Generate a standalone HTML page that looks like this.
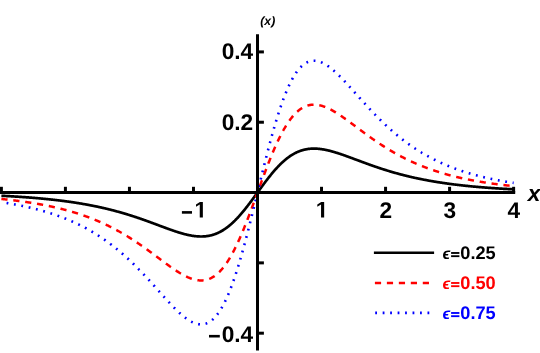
<!DOCTYPE html>
<html><head><meta charset="utf-8"><title>plot</title>
<style>html,body{margin:0;padding:0;background:#fff;overflow:hidden}svg{display:block;will-change:transform}text{font-family:"Liberation Sans",sans-serif;font-weight:bold;text-rendering:geometricPrecision}</style></head><body>
<svg width="540" height="353" viewBox="0 0 540 353">
<rect width="540" height="353" fill="#fff"/>
<g fill="none" stroke-linejoin="round">
<path d="M1.38 195.77 L1.81 195.79 L2.23 195.81 L2.66 195.83 L3.09 195.85 L3.51 195.88 L3.94 195.90 L4.37 195.92 L4.79 195.94 L5.22 195.97 L5.65 195.99 L6.08 196.01 L6.50 196.03 L6.93 196.06 L7.36 196.08 L7.78 196.10 L8.21 196.13 L8.64 196.15 L9.06 196.18 L9.49 196.20 L9.92 196.22 L10.34 196.25 L10.77 196.27 L11.20 196.30 L11.62 196.32 L12.05 196.35 L12.48 196.37 L12.91 196.40 L13.33 196.43 L13.76 196.45 L14.19 196.48 L14.61 196.50 L15.04 196.53 L15.47 196.56 L15.89 196.58 L16.32 196.61 L16.75 196.64 L17.17 196.66 L17.60 196.69 L18.03 196.72 L18.45 196.75 L18.88 196.77 L19.31 196.80 L19.74 196.83 L20.16 196.86 L20.59 196.89 L21.02 196.92 L21.44 196.95 L21.87 196.98 L22.30 197.01 L22.72 197.03 L23.15 197.06 L23.58 197.09 L24.00 197.13 L24.43 197.16 L24.86 197.19 L25.28 197.22 L25.71 197.25 L26.14 197.28 L26.57 197.31 L26.99 197.34 L27.42 197.37 L27.85 197.41 L28.27 197.44 L28.70 197.47 L29.13 197.50 L29.55 197.54 L29.98 197.57 L30.41 197.60 L30.83 197.64 L31.26 197.67 L31.69 197.71 L32.11 197.74 L32.54 197.77 L32.97 197.81 L33.39 197.84 L33.82 197.88 L34.25 197.91 L34.68 197.95 L35.10 197.99 L35.53 198.02 L35.96 198.06 L36.38 198.10 L36.81 198.13 L37.24 198.17 L37.66 198.21 L38.09 198.24 L38.52 198.28 L38.94 198.32 L39.37 198.36 L39.80 198.40 L40.22 198.44 L40.65 198.48 L41.08 198.51 L41.51 198.55 L41.93 198.59 L42.36 198.63 L42.79 198.67 L43.21 198.72 L43.64 198.76 L44.07 198.80 L44.49 198.84 L44.92 198.88 L45.35 198.92 L45.77 198.97 L46.20 199.01 L46.63 199.05 L47.05 199.09 L47.48 199.14 L47.91 199.18 L48.34 199.22 L48.76 199.27 L49.19 199.31 L49.62 199.36 L50.04 199.40 L50.47 199.45 L50.90 199.49 L51.32 199.54 L51.75 199.59 L52.18 199.63 L52.60 199.68 L53.03 199.73 L53.46 199.78 L53.88 199.82 L54.31 199.87 L54.74 199.92 L55.17 199.97 L55.59 200.02 L56.02 200.07 L56.45 200.12 L56.87 200.17 L57.30 200.22 L57.73 200.27 L58.15 200.32 L58.58 200.37 L59.01 200.42 L59.43 200.47 L59.86 200.53 L60.29 200.58 L60.71 200.63 L61.14 200.68 L61.57 200.74 L62.00 200.79 L62.42 200.85 L62.85 200.90 L63.28 200.96 L63.70 201.01 L64.13 201.07 L64.56 201.12 L64.98 201.18 L65.41 201.24 L65.84 201.29 L66.26 201.35 L66.69 201.41 L67.12 201.47 L67.54 201.53 L67.97 201.59 L68.40 201.65 L68.82 201.71 L69.25 201.77 L69.68 201.83 L70.11 201.89 L70.53 201.95 L70.96 202.01 L71.39 202.07 L71.81 202.14 L72.24 202.20 L72.67 202.26 L73.09 202.33 L73.52 202.39 L73.95 202.45 L74.37 202.52 L74.80 202.58 L75.23 202.65 L75.65 202.72 L76.08 202.78 L76.51 202.85 L76.94 202.92 L77.36 202.99 L77.79 203.05 L78.22 203.12 L78.64 203.19 L79.07 203.26 L79.50 203.33 L79.92 203.40 L80.35 203.47 L80.78 203.54 L81.20 203.62 L81.63 203.69 L82.06 203.76 L82.48 203.83 L82.91 203.91 L83.34 203.98 L83.77 204.06 L84.19 204.13 L84.62 204.21 L85.05 204.28 L85.47 204.36 L85.90 204.43 L86.33 204.51 L86.75 204.59 L87.18 204.67 L87.61 204.75 L88.03 204.83 L88.46 204.91 L88.89 204.99 L89.31 205.07 L89.74 205.15 L90.17 205.23 L90.60 205.31 L91.02 205.39 L91.45 205.48 L91.88 205.56 L92.30 205.64 L92.73 205.73 L93.16 205.81 L93.58 205.90 L94.01 205.98 L94.44 206.07 L94.86 206.16 L95.29 206.25 L95.72 206.33 L96.14 206.42 L96.57 206.51 L97.00 206.60 L97.43 206.69 L97.85 206.78 L98.28 206.87 L98.71 206.97 L99.13 207.06 L99.56 207.15 L99.99 207.24 L100.41 207.34 L100.84 207.43 L101.27 207.53 L101.69 207.62 L102.12 207.72 L102.55 207.82 L102.97 207.91 L103.40 208.01 L103.83 208.11 L104.25 208.21 L104.68 208.31 L105.11 208.41 L105.54 208.51 L105.96 208.61 L106.39 208.71 L106.82 208.81 L107.24 208.92 L107.67 209.02 L108.10 209.12 L108.52 209.23 L108.95 209.33 L109.38 209.44 L109.80 209.55 L110.23 209.65 L110.66 209.76 L111.08 209.87 L111.51 209.98 L111.94 210.09 L112.37 210.20 L112.79 210.31 L113.22 210.42 L113.65 210.53 L114.07 210.64 L114.50 210.75 L114.93 210.87 L115.35 210.98 L115.78 211.10 L116.21 211.21 L116.63 211.33 L117.06 211.44 L117.49 211.56 L117.91 211.68 L118.34 211.79 L118.77 211.91 L119.20 212.03 L119.62 212.15 L120.05 212.27 L120.48 212.39 L120.90 212.52 L121.33 212.64 L121.76 212.76 L122.18 212.88 L122.61 213.01 L123.04 213.13 L123.46 213.26 L123.89 213.38 L124.32 213.51 L124.74 213.64 L125.17 213.77 L125.60 213.89 L126.03 214.02 L126.45 214.15 L126.88 214.28 L127.31 214.41 L127.73 214.54 L128.16 214.67 L128.59 214.81 L129.01 214.94 L129.44 215.07 L129.87 215.21 L130.29 215.34 L130.72 215.48 L131.15 215.61 L131.57 215.75 L132.00 215.89 L132.43 216.02 L132.85 216.16 L133.28 216.30 L133.71 216.44 L134.14 216.58 L134.56 216.72 L134.99 216.86 L135.42 217.00 L135.84 217.14 L136.27 217.29 L136.70 217.43 L137.12 217.57 L137.55 217.72 L137.98 217.86 L138.40 218.01 L138.83 218.15 L139.26 218.30 L139.68 218.44 L140.11 218.59 L140.54 218.74 L140.97 218.89 L141.39 219.03 L141.82 219.18 L142.25 219.33 L142.67 219.48 L143.10 219.63 L143.53 219.78 L143.95 219.93 L144.38 220.09 L144.81 220.24 L145.23 220.39 L145.66 220.54 L146.09 220.70 L146.51 220.85 L146.94 221.00 L147.37 221.16 L147.80 221.31 L148.22 221.47 L148.65 221.62 L149.08 221.78 L149.50 221.93 L149.93 222.09 L150.36 222.25 L150.78 222.40 L151.21 222.56 L151.64 222.72 L152.06 222.87 L152.49 223.03 L152.92 223.19 L153.34 223.35 L153.77 223.51 L154.20 223.66 L154.63 223.82 L155.05 223.98 L155.48 224.14 L155.91 224.30 L156.33 224.46 L156.76 224.62 L157.19 224.78 L157.61 224.94 L158.04 225.10 L158.47 225.26 L158.89 225.42 L159.32 225.58 L159.75 225.73 L160.17 225.89 L160.60 226.05 L161.03 226.21 L161.45 226.37 L161.88 226.53 L162.31 226.69 L162.74 226.85 L163.16 227.01 L163.59 227.17 L164.02 227.32 L164.44 227.48 L164.87 227.64 L165.30 227.80 L165.72 227.95 L166.15 228.11 L166.58 228.27 L167.00 228.42 L167.43 228.58 L167.86 228.73 L168.28 228.89 L168.71 229.04 L169.14 229.19 L169.57 229.35 L169.99 229.50 L170.42 229.65 L170.85 229.80 L171.27 229.95 L171.70 230.10 L172.13 230.25 L172.55 230.40 L172.98 230.54 L173.41 230.69 L173.83 230.84 L174.26 230.98 L174.69 231.13 L175.11 231.27 L175.54 231.41 L175.97 231.55 L176.40 231.69 L176.82 231.83 L177.25 231.97 L177.68 232.10 L178.10 232.24 L178.53 232.37 L178.96 232.50 L179.38 232.64 L179.81 232.77 L180.24 232.89 L180.66 233.02 L181.09 233.15 L181.52 233.27 L181.94 233.39 L182.37 233.51 L182.80 233.63 L183.23 233.75 L183.65 233.87 L184.08 233.98 L184.51 234.09 L184.93 234.20 L185.36 234.31 L185.79 234.42 L186.21 234.52 L186.64 234.62 L187.07 234.72 L187.49 234.82 L187.92 234.91 L188.35 235.01 L188.77 235.10 L189.20 235.19 L189.63 235.27 L190.06 235.36 L190.48 235.44 L190.91 235.52 L191.34 235.59 L191.76 235.67 L192.19 235.74 L192.62 235.81 L193.04 235.87 L193.47 235.93 L193.90 235.99 L194.32 236.05 L194.75 236.10 L195.18 236.15 L195.60 236.20 L196.03 236.24 L196.46 236.28 L196.88 236.32 L197.31 236.36 L197.74 236.39 L198.17 236.41 L198.59 236.44 L199.02 236.46 L199.45 236.47 L199.87 236.48 L200.30 236.49 L200.73 236.50 L201.15 236.50 L201.58 236.50 L202.01 236.49 L202.43 236.48 L202.86 236.46 L203.29 236.45 L203.71 236.42 L204.14 236.40 L204.57 236.36 L205.00 236.33 L205.42 236.29 L205.85 236.24 L206.28 236.19 L206.70 236.14 L207.13 236.08 L207.56 236.02 L207.98 235.95 L208.41 235.88 L208.84 235.80 L209.26 235.72 L209.69 235.63 L210.12 235.54 L210.54 235.44 L210.97 235.34 L211.40 235.23 L211.83 235.12 L212.25 235.00 L212.68 234.87 L213.11 234.75 L213.53 234.61 L213.96 234.47 L214.39 234.33 L214.81 234.18 L215.24 234.02 L215.67 233.86 L216.09 233.70 L216.52 233.52 L216.95 233.35 L217.37 233.16 L217.80 232.97 L218.23 232.78 L218.66 232.58 L219.08 232.37 L219.51 232.16 L219.94 231.94 L220.36 231.72 L220.79 231.49 L221.22 231.25 L221.64 231.01 L222.07 230.76 L222.50 230.51 L222.92 230.25 L223.35 229.99 L223.78 229.72 L224.20 229.44 L224.63 229.16 L225.06 228.87 L225.49 228.57 L225.91 228.27 L226.34 227.97 L226.77 227.65 L227.19 227.33 L227.62 227.01 L228.05 226.68 L228.47 226.34 L228.90 226.00 L229.33 225.65 L229.75 225.30 L230.18 224.94 L230.61 224.57 L231.03 224.20 L231.46 223.83 L231.89 223.44 L232.31 223.05 L232.74 222.66 L233.17 222.26 L233.60 221.86 L234.02 221.45 L234.45 221.03 L234.88 220.61 L235.30 220.18 L235.73 219.75 L236.16 219.31 L236.58 218.87 L237.01 218.42 L237.44 217.97 L237.86 217.51 L238.29 217.05 L238.72 216.58 L239.14 216.11 L239.57 215.63 L240.00 215.15 L240.43 214.66 L240.85 214.17 L241.28 213.67 L241.71 213.17 L242.13 212.67 L242.56 212.16 L242.99 211.65 L243.41 211.13 L243.84 210.61 L244.27 210.09 L244.69 209.56 L245.12 209.03 L245.55 208.49 L245.97 207.95 L246.40 207.41 L246.83 206.87 L247.26 206.32 L247.68 205.77 L248.11 205.21 L248.54 204.66 L248.96 204.10 L249.39 203.54 L249.82 202.97 L250.24 202.41 L250.67 201.84 L251.10 201.27 L251.52 200.69 L251.95 200.12 L252.38 199.54 L252.80 198.97 L253.23 198.39 L253.66 197.81 L254.09 197.23 L254.51 196.64 L254.94 196.06 L255.37 195.48 L255.79 194.89 L256.22 194.31 L256.65 193.72 L257.07 193.14 L257.50 192.55 L257.93 191.96 L258.35 191.38 L258.78 190.79 L259.21 190.21 L259.63 189.62 L260.06 189.04 L260.49 188.46 L260.91 187.87 L261.34 187.29 L261.77 186.71 L262.20 186.13 L262.62 185.56 L263.05 184.98 L263.48 184.41 L263.90 183.83 L264.33 183.26 L264.76 182.69 L265.18 182.13 L265.61 181.56 L266.04 181.00 L266.46 180.44 L266.89 179.89 L267.32 179.33 L267.74 178.78 L268.17 178.23 L268.60 177.69 L269.03 177.15 L269.45 176.61 L269.88 176.07 L270.31 175.54 L270.73 175.01 L271.16 174.49 L271.59 173.97 L272.01 173.45 L272.44 172.94 L272.87 172.43 L273.29 171.93 L273.72 171.43 L274.15 170.93 L274.57 170.44 L275.00 169.95 L275.43 169.47 L275.86 168.99 L276.28 168.52 L276.71 168.05 L277.14 167.59 L277.56 167.13 L277.99 166.68 L278.42 166.23 L278.84 165.79 L279.27 165.35 L279.70 164.92 L280.12 164.49 L280.55 164.07 L280.98 163.65 L281.40 163.24 L281.83 162.84 L282.26 162.44 L282.69 162.05 L283.11 161.66 L283.54 161.27 L283.97 160.90 L284.39 160.53 L284.82 160.16 L285.25 159.80 L285.67 159.45 L286.10 159.10 L286.53 158.76 L286.95 158.42 L287.38 158.09 L287.81 157.77 L288.23 157.45 L288.66 157.13 L289.09 156.83 L289.51 156.53 L289.94 156.23 L290.37 155.94 L290.80 155.66 L291.22 155.38 L291.65 155.11 L292.08 154.85 L292.50 154.59 L292.93 154.34 L293.36 154.09 L293.78 153.85 L294.21 153.61 L294.64 153.38 L295.06 153.16 L295.49 152.94 L295.92 152.73 L296.34 152.52 L296.77 152.32 L297.20 152.13 L297.63 151.94 L298.05 151.75 L298.48 151.58 L298.91 151.40 L299.33 151.24 L299.76 151.08 L300.19 150.92 L300.61 150.77 L301.04 150.63 L301.47 150.49 L301.89 150.35 L302.32 150.23 L302.75 150.10 L303.17 149.98 L303.60 149.87 L304.03 149.76 L304.46 149.66 L304.88 149.56 L305.31 149.47 L305.74 149.38 L306.16 149.30 L306.59 149.22 L307.02 149.15 L307.44 149.08 L307.87 149.02 L308.30 148.96 L308.72 148.91 L309.15 148.86 L309.58 148.81 L310.00 148.77 L310.43 148.74 L310.86 148.70 L311.29 148.68 L311.71 148.65 L312.14 148.64 L312.57 148.62 L312.99 148.61 L313.42 148.60 L313.85 148.60 L314.27 148.60 L314.70 148.61 L315.13 148.62 L315.55 148.63 L315.98 148.64 L316.41 148.66 L316.83 148.69 L317.26 148.71 L317.69 148.74 L318.12 148.78 L318.54 148.82 L318.97 148.86 L319.40 148.90 L319.82 148.95 L320.25 149.00 L320.68 149.05 L321.10 149.11 L321.53 149.17 L321.96 149.23 L322.38 149.29 L322.81 149.36 L323.24 149.43 L323.66 149.51 L324.09 149.58 L324.52 149.66 L324.94 149.74 L325.37 149.83 L325.80 149.91 L326.23 150.00 L326.65 150.09 L327.08 150.19 L327.51 150.28 L327.93 150.38 L328.36 150.48 L328.79 150.58 L329.21 150.68 L329.64 150.79 L330.07 150.90 L330.49 151.01 L330.92 151.12 L331.35 151.23 L331.77 151.35 L332.20 151.47 L332.63 151.59 L333.06 151.71 L333.48 151.83 L333.91 151.95 L334.34 152.08 L334.76 152.21 L335.19 152.33 L335.62 152.46 L336.04 152.60 L336.47 152.73 L336.90 152.86 L337.32 153.00 L337.75 153.13 L338.18 153.27 L338.60 153.41 L339.03 153.55 L339.46 153.69 L339.89 153.83 L340.31 153.97 L340.74 154.12 L341.17 154.26 L341.59 154.41 L342.02 154.56 L342.45 154.70 L342.87 154.85 L343.30 155.00 L343.73 155.15 L344.15 155.30 L344.58 155.45 L345.01 155.60 L345.43 155.75 L345.86 155.91 L346.29 156.06 L346.72 156.21 L347.14 156.37 L347.57 156.52 L348.00 156.68 L348.42 156.83 L348.85 156.99 L349.28 157.15 L349.70 157.30 L350.13 157.46 L350.56 157.62 L350.98 157.78 L351.41 157.93 L351.84 158.09 L352.26 158.25 L352.69 158.41 L353.12 158.57 L353.55 158.73 L353.97 158.89 L354.40 159.05 L354.83 159.21 L355.25 159.37 L355.68 159.52 L356.11 159.68 L356.53 159.84 L356.96 160.00 L357.39 160.16 L357.81 160.32 L358.24 160.48 L358.67 160.64 L359.09 160.80 L359.52 160.96 L359.95 161.12 L360.37 161.28 L360.80 161.44 L361.23 161.59 L361.66 161.75 L362.08 161.91 L362.51 162.07 L362.94 162.23 L363.36 162.38 L363.79 162.54 L364.22 162.70 L364.64 162.85 L365.07 163.01 L365.50 163.17 L365.92 163.32 L366.35 163.48 L366.78 163.63 L367.20 163.79 L367.63 163.94 L368.06 164.10 L368.49 164.25 L368.91 164.40 L369.34 164.56 L369.77 164.71 L370.19 164.86 L370.62 165.01 L371.05 165.17 L371.47 165.32 L371.90 165.47 L372.33 165.62 L372.75 165.77 L373.18 165.92 L373.61 166.07 L374.03 166.21 L374.46 166.36 L374.89 166.51 L375.32 166.66 L375.74 166.80 L376.17 166.95 L376.60 167.09 L377.02 167.24 L377.45 167.38 L377.88 167.53 L378.30 167.67 L378.73 167.81 L379.16 167.96 L379.58 168.10 L380.01 168.24 L380.44 168.38 L380.86 168.52 L381.29 168.66 L381.72 168.80 L382.15 168.94 L382.57 169.08 L383.00 169.21 L383.43 169.35 L383.85 169.49 L384.28 169.62 L384.71 169.76 L385.13 169.89 L385.56 170.03 L385.99 170.16 L386.41 170.29 L386.84 170.43 L387.27 170.56 L387.69 170.69 L388.12 170.82 L388.55 170.95 L388.97 171.08 L389.40 171.21 L389.83 171.33 L390.26 171.46 L390.68 171.59 L391.11 171.72 L391.54 171.84 L391.96 171.97 L392.39 172.09 L392.82 172.22 L393.24 172.34 L393.67 172.46 L394.10 172.58 L394.52 172.71 L394.95 172.83 L395.38 172.95 L395.80 173.07 L396.23 173.19 L396.66 173.31 L397.09 173.42 L397.51 173.54 L397.94 173.66 L398.37 173.77 L398.79 173.89 L399.22 174.00 L399.65 174.12 L400.07 174.23 L400.50 174.35 L400.93 174.46 L401.35 174.57 L401.78 174.68 L402.21 174.79 L402.63 174.90 L403.06 175.01 L403.49 175.12 L403.92 175.23 L404.34 175.34 L404.77 175.45 L405.20 175.55 L405.62 175.66 L406.05 175.77 L406.48 175.87 L406.90 175.98 L407.33 176.08 L407.76 176.18 L408.18 176.29 L408.61 176.39 L409.04 176.49 L409.46 176.59 L409.89 176.69 L410.32 176.79 L410.75 176.89 L411.17 176.99 L411.60 177.09 L412.03 177.19 L412.45 177.28 L412.88 177.38 L413.31 177.48 L413.73 177.57 L414.16 177.67 L414.59 177.76 L415.01 177.86 L415.44 177.95 L415.87 178.04 L416.29 178.13 L416.72 178.23 L417.15 178.32 L417.57 178.41 L418.00 178.50 L418.43 178.59 L418.86 178.68 L419.28 178.77 L419.71 178.85 L420.14 178.94 L420.56 179.03 L420.99 179.12 L421.42 179.20 L421.84 179.29 L422.27 179.37 L422.70 179.46 L423.12 179.54 L423.55 179.62 L423.98 179.71 L424.40 179.79 L424.83 179.87 L425.26 179.95 L425.69 180.03 L426.11 180.11 L426.54 180.19 L426.97 180.27 L427.39 180.35 L427.82 180.43 L428.25 180.51 L428.67 180.59 L429.10 180.67 L429.53 180.74 L429.95 180.82 L430.38 180.89 L430.81 180.97 L431.23 181.04 L431.66 181.12 L432.09 181.19 L432.52 181.27 L432.94 181.34 L433.37 181.41 L433.80 181.48 L434.22 181.56 L434.65 181.63 L435.08 181.70 L435.50 181.77 L435.93 181.84 L436.36 181.91 L436.78 181.98 L437.21 182.05 L437.64 182.11 L438.06 182.18 L438.49 182.25 L438.92 182.32 L439.35 182.38 L439.77 182.45 L440.20 182.52 L440.63 182.58 L441.05 182.65 L441.48 182.71 L441.91 182.77 L442.33 182.84 L442.76 182.90 L443.19 182.96 L443.61 183.03 L444.04 183.09 L444.47 183.15 L444.89 183.21 L445.32 183.27 L445.75 183.33 L446.18 183.39 L446.60 183.45 L447.03 183.51 L447.46 183.57 L447.88 183.63 L448.31 183.69 L448.74 183.75 L449.16 183.81 L449.59 183.86 L450.02 183.92 L450.44 183.98 L450.87 184.03 L451.30 184.09 L451.72 184.14 L452.15 184.20 L452.58 184.25 L453.00 184.31 L453.43 184.36 L453.86 184.42 L454.29 184.47 L454.71 184.52 L455.14 184.57 L455.57 184.63 L455.99 184.68 L456.42 184.73 L456.85 184.78 L457.27 184.83 L457.70 184.88 L458.13 184.93 L458.55 184.98 L458.98 185.03 L459.41 185.08 L459.83 185.13 L460.26 185.18 L460.69 185.23 L461.12 185.28 L461.54 185.32 L461.97 185.37 L462.40 185.42 L462.82 185.47 L463.25 185.51 L463.68 185.56 L464.10 185.61 L464.53 185.65 L464.96 185.70 L465.38 185.74 L465.81 185.79 L466.24 185.83 L466.66 185.88 L467.09 185.92 L467.52 185.96 L467.95 186.01 L468.37 186.05 L468.80 186.09 L469.23 186.13 L469.65 186.18 L470.08 186.22 L470.51 186.26 L470.93 186.30 L471.36 186.34 L471.79 186.38 L472.21 186.43 L472.64 186.47 L473.07 186.51 L473.49 186.55 L473.92 186.59 L474.35 186.62 L474.78 186.66 L475.20 186.70 L475.63 186.74 L476.06 186.78 L476.48 186.82 L476.91 186.86 L477.34 186.89 L477.76 186.93 L478.19 186.97 L478.62 187.00 L479.04 187.04 L479.47 187.08 L479.90 187.11 L480.32 187.15 L480.75 187.19 L481.18 187.22 L481.61 187.26 L482.03 187.29 L482.46 187.33 L482.89 187.36 L483.31 187.39 L483.74 187.43 L484.17 187.46 L484.59 187.50 L485.02 187.53 L485.45 187.56 L485.87 187.60 L486.30 187.63 L486.73 187.66 L487.15 187.69 L487.58 187.73 L488.01 187.76 L488.43 187.79 L488.86 187.82 L489.29 187.85 L489.72 187.88 L490.14 187.91 L490.57 187.94 L491.00 187.97 L491.42 188.01 L491.85 188.04 L492.28 188.07 L492.70 188.09 L493.13 188.12 L493.56 188.15 L493.98 188.18 L494.41 188.21 L494.84 188.24 L495.26 188.27 L495.69 188.30 L496.12 188.33 L496.55 188.35 L496.97 188.38 L497.40 188.41 L497.83 188.44 L498.25 188.46 L498.68 188.49 L499.11 188.52 L499.53 188.54 L499.96 188.57 L500.39 188.60 L500.81 188.62 L501.24 188.65 L501.67 188.67 L502.09 188.70 L502.52 188.73 L502.95 188.75 L503.38 188.78 L503.80 188.80 L504.23 188.83 L504.66 188.85 L505.08 188.88 L505.51 188.90 L505.94 188.92 L506.36 188.95 L506.79 188.97 L507.22 189.00 L507.64 189.02 L508.07 189.04 L508.50 189.07 L508.92 189.09 L509.35 189.11 L509.78 189.13 L510.21 189.16 L510.63 189.18 L511.06 189.20 L511.49 189.22 L511.91 189.25 L512.34 189.27 L512.77 189.29 L513.19 189.31 L513.62 189.33" stroke="#000" stroke-width="2.7"/>
<path d="M1.38 198.98 L1.81 199.03 L2.23 199.07 L2.66 199.11 L3.09 199.16 L3.51 199.20 L3.94 199.25 L4.37 199.29 L4.79 199.33 L5.22 199.38 L5.65 199.43 L6.08 199.47 L6.50 199.52 L6.93 199.56 L7.36 199.61 L7.78 199.66 L8.21 199.71 L8.64 199.75 L9.06 199.80 L9.49 199.85 L9.92 199.90 L10.34 199.95 L10.77 200.00 L11.20 200.05 L11.62 200.10 L12.05 200.15 L12.48 200.20 L12.91 200.25 L13.33 200.30 L13.76 200.35 L14.19 200.40 L14.61 200.46 L15.04 200.51 L15.47 200.56 L15.89 200.62 L16.32 200.67 L16.75 200.72 L17.17 200.78 L17.60 200.83 L18.03 200.89 L18.45 200.94 L18.88 201.00 L19.31 201.06 L19.74 201.11 L20.16 201.17 L20.59 201.23 L21.02 201.28 L21.44 201.34 L21.87 201.40 L22.30 201.46 L22.72 201.52 L23.15 201.58 L23.58 201.64 L24.00 201.70 L24.43 201.76 L24.86 201.82 L25.28 201.88 L25.71 201.95 L26.14 202.01 L26.57 202.07 L26.99 202.14 L27.42 202.20 L27.85 202.26 L28.27 202.33 L28.70 202.39 L29.13 202.46 L29.55 202.52 L29.98 202.59 L30.41 202.66 L30.83 202.73 L31.26 202.79 L31.69 202.86 L32.11 202.93 L32.54 203.00 L32.97 203.07 L33.39 203.14 L33.82 203.21 L34.25 203.28 L34.68 203.35 L35.10 203.42 L35.53 203.50 L35.96 203.57 L36.38 203.64 L36.81 203.72 L37.24 203.79 L37.66 203.86 L38.09 203.94 L38.52 204.01 L38.94 204.09 L39.37 204.17 L39.80 204.24 L40.22 204.32 L40.65 204.40 L41.08 204.48 L41.51 204.56 L41.93 204.64 L42.36 204.72 L42.79 204.80 L43.21 204.88 L43.64 204.96 L44.07 205.05 L44.49 205.13 L44.92 205.21 L45.35 205.30 L45.77 205.38 L46.20 205.47 L46.63 205.55 L47.05 205.64 L47.48 205.72 L47.91 205.81 L48.34 205.90 L48.76 205.99 L49.19 206.08 L49.62 206.17 L50.04 206.26 L50.47 206.35 L50.90 206.44 L51.32 206.53 L51.75 206.62 L52.18 206.72 L52.60 206.81 L53.03 206.91 L53.46 207.00 L53.88 207.10 L54.31 207.19 L54.74 207.29 L55.17 207.39 L55.59 207.48 L56.02 207.58 L56.45 207.68 L56.87 207.78 L57.30 207.88 L57.73 207.99 L58.15 208.09 L58.58 208.19 L59.01 208.29 L59.43 208.40 L59.86 208.50 L60.29 208.61 L60.71 208.71 L61.14 208.82 L61.57 208.93 L62.00 209.04 L62.42 209.14 L62.85 209.25 L63.28 209.36 L63.70 209.47 L64.13 209.59 L64.56 209.70 L64.98 209.81 L65.41 209.93 L65.84 210.04 L66.26 210.16 L66.69 210.27 L67.12 210.39 L67.54 210.51 L67.97 210.62 L68.40 210.74 L68.82 210.86 L69.25 210.98 L69.68 211.10 L70.11 211.23 L70.53 211.35 L70.96 211.47 L71.39 211.60 L71.81 211.72 L72.24 211.85 L72.67 211.97 L73.09 212.10 L73.52 212.23 L73.95 212.36 L74.37 212.49 L74.80 212.62 L75.23 212.75 L75.65 212.88 L76.08 213.02 L76.51 213.15 L76.94 213.29 L77.36 213.42 L77.79 213.56 L78.22 213.70 L78.64 213.83 L79.07 213.97 L79.50 214.11 L79.92 214.25 L80.35 214.40 L80.78 214.54 L81.20 214.68 L81.63 214.83 L82.06 214.97 L82.48 215.12 L82.91 215.26 L83.34 215.41 L83.77 215.56 L84.19 215.71 L84.62 215.86 L85.05 216.01 L85.47 216.17 L85.90 216.32 L86.33 216.47 L86.75 216.63 L87.18 216.79 L87.61 216.94 L88.03 217.10 L88.46 217.26 L88.89 217.42 L89.31 217.58 L89.74 217.74 L90.17 217.91 L90.60 218.07 L91.02 218.24 L91.45 218.40 L91.88 218.57 L92.30 218.74 L92.73 218.91 L93.16 219.08 L93.58 219.25 L94.01 219.42 L94.44 219.59 L94.86 219.77 L95.29 219.94 L95.72 220.12 L96.14 220.30 L96.57 220.47 L97.00 220.65 L97.43 220.83 L97.85 221.02 L98.28 221.20 L98.71 221.38 L99.13 221.57 L99.56 221.75 L99.99 221.94 L100.41 222.13 L100.84 222.32 L101.27 222.51 L101.69 222.70 L102.12 222.89 L102.55 223.08 L102.97 223.28 L103.40 223.47 L103.83 223.67 L104.25 223.87 L104.68 224.07 L105.11 224.27 L105.54 224.47 L105.96 224.67 L106.39 224.87 L106.82 225.08 L107.24 225.28 L107.67 225.49 L108.10 225.70 L108.52 225.91 L108.95 226.12 L109.38 226.33 L109.80 226.54 L110.23 226.76 L110.66 226.97 L111.08 227.19 L111.51 227.40 L111.94 227.62 L112.37 227.84 L112.79 228.06 L113.22 228.28 L113.65 228.51 L114.07 228.73 L114.50 228.96 L114.93 229.18 L115.35 229.41 L115.78 229.64 L116.21 229.87 L116.63 230.10 L117.06 230.33 L117.49 230.57 L117.91 230.80 L118.34 231.04 L118.77 231.28 L119.20 231.52 L119.62 231.76 L120.05 232.00 L120.48 232.24 L120.90 232.48 L121.33 232.73 L121.76 232.97 L122.18 233.22 L122.61 233.47 L123.04 233.72 L123.46 233.97 L123.89 234.22 L124.32 234.47 L124.74 234.73 L125.17 234.98 L125.60 235.24 L126.03 235.49 L126.45 235.75 L126.88 236.01 L127.31 236.27 L127.73 236.54 L128.16 236.80 L128.59 237.06 L129.01 237.33 L129.44 237.60 L129.87 237.87 L130.29 238.13 L130.72 238.40 L131.15 238.68 L131.57 238.95 L132.00 239.22 L132.43 239.50 L132.85 239.77 L133.28 240.05 L133.71 240.33 L134.14 240.61 L134.56 240.89 L134.99 241.17 L135.42 241.45 L135.84 241.74 L136.27 242.02 L136.70 242.31 L137.12 242.59 L137.55 242.88 L137.98 243.17 L138.40 243.46 L138.83 243.75 L139.26 244.04 L139.68 244.34 L140.11 244.63 L140.54 244.93 L140.97 245.22 L141.39 245.52 L141.82 245.82 L142.25 246.11 L142.67 246.41 L143.10 246.71 L143.53 247.02 L143.95 247.32 L144.38 247.62 L144.81 247.92 L145.23 248.23 L145.66 248.53 L146.09 248.84 L146.51 249.15 L146.94 249.45 L147.37 249.76 L147.80 250.07 L148.22 250.38 L148.65 250.69 L149.08 251.00 L149.50 251.32 L149.93 251.63 L150.36 251.94 L150.78 252.25 L151.21 252.57 L151.64 252.88 L152.06 253.20 L152.49 253.51 L152.92 253.83 L153.34 254.15 L153.77 254.46 L154.20 254.78 L154.63 255.10 L155.05 255.41 L155.48 255.73 L155.91 256.05 L156.33 256.37 L156.76 256.69 L157.19 257.01 L157.61 257.32 L158.04 257.64 L158.47 257.96 L158.89 258.28 L159.32 258.60 L159.75 258.92 L160.17 259.24 L160.60 259.56 L161.03 259.88 L161.45 260.19 L161.88 260.51 L162.31 260.83 L162.74 261.15 L163.16 261.46 L163.59 261.78 L164.02 262.10 L164.44 262.41 L164.87 262.73 L165.30 263.04 L165.72 263.36 L166.15 263.67 L166.58 263.98 L167.00 264.29 L167.43 264.60 L167.86 264.91 L168.28 265.22 L168.71 265.53 L169.14 265.84 L169.57 266.14 L169.99 266.45 L170.42 266.75 L170.85 267.05 L171.27 267.35 L171.70 267.65 L172.13 267.95 L172.55 268.25 L172.98 268.54 L173.41 268.83 L173.83 269.12 L174.26 269.41 L174.69 269.70 L175.11 269.99 L175.54 270.27 L175.97 270.55 L176.40 270.83 L176.82 271.11 L177.25 271.38 L177.68 271.66 L178.10 271.93 L178.53 272.19 L178.96 272.46 L179.38 272.72 L179.81 272.98 L180.24 273.24 L180.66 273.49 L181.09 273.74 L181.52 273.99 L181.94 274.23 L182.37 274.48 L182.80 274.71 L183.23 274.95 L183.65 275.18 L184.08 275.41 L184.51 275.63 L184.93 275.85 L185.36 276.07 L185.79 276.28 L186.21 276.49 L186.64 276.69 L187.07 276.89 L187.49 277.09 L187.92 277.28 L188.35 277.47 L188.77 277.65 L189.20 277.83 L189.63 278.00 L190.06 278.17 L190.48 278.33 L190.91 278.49 L191.34 278.64 L191.76 278.78 L192.19 278.93 L192.62 279.06 L193.04 279.19 L193.47 279.32 L193.90 279.44 L194.32 279.55 L194.75 279.65 L195.18 279.76 L195.60 279.85 L196.03 279.94 L196.46 280.02 L196.88 280.09 L197.31 280.16 L197.74 280.22 L198.17 280.28 L198.59 280.32 L199.02 280.36 L199.45 280.39 L199.87 280.42 L200.30 280.44 L200.73 280.45 L201.15 280.45 L201.58 280.44 L202.01 280.43 L202.43 280.41 L202.86 280.38 L203.29 280.34 L203.71 280.30 L204.14 280.24 L204.57 280.18 L205.00 280.10 L205.42 280.02 L205.85 279.93 L206.28 279.83 L206.70 279.73 L207.13 279.61 L207.56 279.48 L207.98 279.35 L208.41 279.20 L208.84 279.05 L209.26 278.88 L209.69 278.71 L210.12 278.52 L210.54 278.33 L210.97 278.12 L211.40 277.91 L211.83 277.68 L212.25 277.44 L212.68 277.20 L213.11 276.94 L213.53 276.67 L213.96 276.40 L214.39 276.11 L214.81 275.81 L215.24 275.50 L215.67 275.17 L216.09 274.84 L216.52 274.50 L216.95 274.14 L217.37 273.77 L217.80 273.40 L218.23 273.01 L218.66 272.60 L219.08 272.19 L219.51 271.77 L219.94 271.33 L220.36 270.89 L220.79 270.43 L221.22 269.96 L221.64 269.47 L222.07 268.98 L222.50 268.47 L222.92 267.95 L223.35 267.42 L223.78 266.88 L224.20 266.33 L224.63 265.76 L225.06 265.18 L225.49 264.60 L225.91 263.99 L226.34 263.38 L226.77 262.76 L227.19 262.12 L227.62 261.47 L228.05 260.81 L228.47 260.14 L228.90 259.45 L229.33 258.76 L229.75 258.05 L230.18 257.33 L230.61 256.60 L231.03 255.86 L231.46 255.10 L231.89 254.34 L232.31 253.56 L232.74 252.77 L233.17 251.97 L233.60 251.16 L234.02 250.34 L234.45 249.51 L234.88 248.66 L235.30 247.81 L235.73 246.95 L236.16 246.07 L236.58 245.19 L237.01 244.29 L237.44 243.38 L237.86 242.47 L238.29 241.54 L238.72 240.61 L239.14 239.66 L239.57 238.71 L240.00 237.74 L240.43 236.77 L240.85 235.79 L241.28 234.79 L241.71 233.79 L242.13 232.79 L242.56 231.77 L242.99 230.74 L243.41 229.71 L243.84 228.67 L244.27 227.62 L244.69 226.57 L245.12 225.50 L245.55 224.43 L245.97 223.36 L246.40 222.27 L246.83 221.18 L247.26 220.09 L247.68 218.99 L248.11 217.88 L248.54 216.76 L248.96 215.65 L249.39 214.52 L249.82 213.40 L250.24 212.26 L250.67 211.13 L251.10 209.98 L251.52 208.84 L251.95 207.69 L252.38 206.54 L252.80 205.38 L253.23 204.23 L253.66 203.07 L254.09 201.90 L254.51 200.74 L254.94 199.57 L255.37 198.40 L255.79 197.24 L256.22 196.06 L256.65 194.89 L257.07 193.72 L257.50 192.55 L257.93 191.38 L258.35 190.21 L258.78 189.04 L259.21 187.86 L259.63 186.70 L260.06 185.53 L260.49 184.36 L260.91 183.20 L261.34 182.03 L261.77 180.87 L262.20 179.72 L262.62 178.56 L263.05 177.41 L263.48 176.26 L263.90 175.12 L264.33 173.97 L264.76 172.84 L265.18 171.70 L265.61 170.58 L266.04 169.45 L266.46 168.34 L266.89 167.22 L267.32 166.11 L267.74 165.01 L268.17 163.92 L268.60 162.83 L269.03 161.74 L269.45 160.67 L269.88 159.60 L270.31 158.53 L270.73 157.48 L271.16 156.43 L271.59 155.39 L272.01 154.36 L272.44 153.33 L272.87 152.31 L273.29 151.31 L273.72 150.31 L274.15 149.31 L274.57 148.33 L275.00 147.36 L275.43 146.39 L275.86 145.44 L276.28 144.49 L276.71 143.56 L277.14 142.63 L277.56 141.72 L277.99 140.81 L278.42 139.91 L278.84 139.03 L279.27 138.15 L279.70 137.29 L280.12 136.44 L280.55 135.59 L280.98 134.76 L281.40 133.94 L281.83 133.13 L282.26 132.33 L282.69 131.54 L283.11 130.76 L283.54 130.00 L283.97 129.24 L284.39 128.50 L284.82 127.77 L285.25 127.05 L285.67 126.34 L286.10 125.65 L286.53 124.96 L286.95 124.29 L287.38 123.63 L287.81 122.98 L288.23 122.34 L288.66 121.72 L289.09 121.11 L289.51 120.50 L289.94 119.92 L290.37 119.34 L290.80 118.77 L291.22 118.22 L291.65 117.68 L292.08 117.15 L292.50 116.63 L292.93 116.12 L293.36 115.63 L293.78 115.14 L294.21 114.67 L294.64 114.21 L295.06 113.77 L295.49 113.33 L295.92 112.91 L296.34 112.50 L296.77 112.09 L297.20 111.70 L297.63 111.33 L298.05 110.96 L298.48 110.60 L298.91 110.26 L299.33 109.93 L299.76 109.60 L300.19 109.29 L300.61 108.99 L301.04 108.70 L301.47 108.43 L301.89 108.16 L302.32 107.90 L302.75 107.66 L303.17 107.42 L303.60 107.19 L304.03 106.98 L304.46 106.77 L304.88 106.58 L305.31 106.39 L305.74 106.22 L306.16 106.05 L306.59 105.90 L307.02 105.75 L307.44 105.62 L307.87 105.49 L308.30 105.37 L308.72 105.27 L309.15 105.17 L309.58 105.08 L310.00 105.00 L310.43 104.92 L310.86 104.86 L311.29 104.80 L311.71 104.76 L312.14 104.72 L312.57 104.69 L312.99 104.67 L313.42 104.66 L313.85 104.65 L314.27 104.65 L314.70 104.66 L315.13 104.68 L315.55 104.71 L315.98 104.74 L316.41 104.78 L316.83 104.82 L317.26 104.88 L317.69 104.94 L318.12 105.01 L318.54 105.08 L318.97 105.16 L319.40 105.25 L319.82 105.34 L320.25 105.45 L320.68 105.55 L321.10 105.66 L321.53 105.78 L321.96 105.91 L322.38 106.04 L322.81 106.17 L323.24 106.32 L323.66 106.46 L324.09 106.61 L324.52 106.77 L324.94 106.93 L325.37 107.10 L325.80 107.27 L326.23 107.45 L326.65 107.63 L327.08 107.82 L327.51 108.01 L327.93 108.21 L328.36 108.41 L328.79 108.61 L329.21 108.82 L329.64 109.03 L330.07 109.25 L330.49 109.47 L330.92 109.69 L331.35 109.92 L331.77 110.15 L332.20 110.39 L332.63 110.62 L333.06 110.87 L333.48 111.11 L333.91 111.36 L334.34 111.61 L334.76 111.86 L335.19 112.12 L335.62 112.38 L336.04 112.64 L336.47 112.91 L336.90 113.17 L337.32 113.44 L337.75 113.72 L338.18 113.99 L338.60 114.27 L339.03 114.55 L339.46 114.83 L339.89 115.11 L340.31 115.40 L340.74 115.69 L341.17 115.98 L341.59 116.27 L342.02 116.56 L342.45 116.85 L342.87 117.15 L343.30 117.45 L343.73 117.75 L344.15 118.05 L344.58 118.35 L345.01 118.65 L345.43 118.96 L345.86 119.26 L346.29 119.57 L346.72 119.88 L347.14 120.19 L347.57 120.50 L348.00 120.81 L348.42 121.12 L348.85 121.43 L349.28 121.74 L349.70 122.06 L350.13 122.37 L350.56 122.69 L350.98 123.00 L351.41 123.32 L351.84 123.64 L352.26 123.95 L352.69 124.27 L353.12 124.59 L353.55 124.91 L353.97 125.22 L354.40 125.54 L354.83 125.86 L355.25 126.18 L355.68 126.50 L356.11 126.82 L356.53 127.14 L356.96 127.46 L357.39 127.78 L357.81 128.09 L358.24 128.41 L358.67 128.73 L359.09 129.05 L359.52 129.37 L359.95 129.69 L360.37 130.00 L360.80 130.32 L361.23 130.64 L361.66 130.95 L362.08 131.27 L362.51 131.59 L362.94 131.90 L363.36 132.22 L363.79 132.53 L364.22 132.85 L364.64 133.16 L365.07 133.47 L365.50 133.78 L365.92 134.10 L366.35 134.41 L366.78 134.72 L367.20 135.03 L367.63 135.34 L368.06 135.65 L368.49 135.95 L368.91 136.26 L369.34 136.57 L369.77 136.87 L370.19 137.18 L370.62 137.48 L371.05 137.78 L371.47 138.08 L371.90 138.39 L372.33 138.69 L372.75 138.99 L373.18 139.28 L373.61 139.58 L374.03 139.88 L374.46 140.17 L374.89 140.47 L375.32 140.76 L375.74 141.06 L376.17 141.35 L376.60 141.64 L377.02 141.93 L377.45 142.22 L377.88 142.51 L378.30 142.79 L378.73 143.08 L379.16 143.36 L379.58 143.65 L380.01 143.93 L380.44 144.21 L380.86 144.49 L381.29 144.77 L381.72 145.05 L382.15 145.33 L382.57 145.60 L383.00 145.88 L383.43 146.15 L383.85 146.42 L384.28 146.70 L384.71 146.97 L385.13 147.23 L385.56 147.50 L385.99 147.77 L386.41 148.04 L386.84 148.30 L387.27 148.56 L387.69 148.83 L388.12 149.09 L388.55 149.35 L388.97 149.61 L389.40 149.86 L389.83 150.12 L390.26 150.37 L390.68 150.63 L391.11 150.88 L391.54 151.13 L391.96 151.38 L392.39 151.63 L392.82 151.88 L393.24 152.13 L393.67 152.37 L394.10 152.62 L394.52 152.86 L394.95 153.10 L395.38 153.34 L395.80 153.58 L396.23 153.82 L396.66 154.06 L397.09 154.30 L397.51 154.53 L397.94 154.77 L398.37 155.00 L398.79 155.23 L399.22 155.46 L399.65 155.69 L400.07 155.92 L400.50 156.14 L400.93 156.37 L401.35 156.59 L401.78 156.82 L402.21 157.04 L402.63 157.26 L403.06 157.48 L403.49 157.70 L403.92 157.91 L404.34 158.13 L404.77 158.34 L405.20 158.56 L405.62 158.77 L406.05 158.98 L406.48 159.19 L406.90 159.40 L407.33 159.61 L407.76 159.82 L408.18 160.02 L408.61 160.23 L409.04 160.43 L409.46 160.63 L409.89 160.83 L410.32 161.03 L410.75 161.23 L411.17 161.43 L411.60 161.63 L412.03 161.82 L412.45 162.02 L412.88 162.21 L413.31 162.40 L413.73 162.59 L414.16 162.78 L414.59 162.97 L415.01 163.16 L415.44 163.35 L415.87 163.53 L416.29 163.72 L416.72 163.90 L417.15 164.08 L417.57 164.27 L418.00 164.45 L418.43 164.63 L418.86 164.80 L419.28 164.98 L419.71 165.16 L420.14 165.33 L420.56 165.51 L420.99 165.68 L421.42 165.85 L421.84 166.02 L422.27 166.19 L422.70 166.36 L423.12 166.53 L423.55 166.70 L423.98 166.86 L424.40 167.03 L424.83 167.19 L425.26 167.36 L425.69 167.52 L426.11 167.68 L426.54 167.84 L426.97 168.00 L427.39 168.16 L427.82 168.31 L428.25 168.47 L428.67 168.63 L429.10 168.78 L429.53 168.93 L429.95 169.09 L430.38 169.24 L430.81 169.39 L431.23 169.54 L431.66 169.69 L432.09 169.84 L432.52 169.98 L432.94 170.13 L433.37 170.27 L433.80 170.42 L434.22 170.56 L434.65 170.70 L435.08 170.85 L435.50 170.99 L435.93 171.13 L436.36 171.27 L436.78 171.40 L437.21 171.54 L437.64 171.68 L438.06 171.81 L438.49 171.95 L438.92 172.08 L439.35 172.22 L439.77 172.35 L440.20 172.48 L440.63 172.61 L441.05 172.74 L441.48 172.87 L441.91 173.00 L442.33 173.13 L442.76 173.25 L443.19 173.38 L443.61 173.50 L444.04 173.63 L444.47 173.75 L444.89 173.87 L445.32 174.00 L445.75 174.12 L446.18 174.24 L446.60 174.36 L447.03 174.48 L447.46 174.59 L447.88 174.71 L448.31 174.83 L448.74 174.94 L449.16 175.06 L449.59 175.17 L450.02 175.29 L450.44 175.40 L450.87 175.51 L451.30 175.63 L451.72 175.74 L452.15 175.85 L452.58 175.96 L453.00 176.06 L453.43 176.17 L453.86 176.28 L454.29 176.39 L454.71 176.49 L455.14 176.60 L455.57 176.70 L455.99 176.81 L456.42 176.91 L456.85 177.01 L457.27 177.11 L457.70 177.22 L458.13 177.32 L458.55 177.42 L458.98 177.52 L459.41 177.62 L459.83 177.71 L460.26 177.81 L460.69 177.91 L461.12 178.00 L461.54 178.10 L461.97 178.19 L462.40 178.29 L462.82 178.38 L463.25 178.48 L463.68 178.57 L464.10 178.66 L464.53 178.75 L464.96 178.84 L465.38 178.93 L465.81 179.02 L466.24 179.11 L466.66 179.20 L467.09 179.29 L467.52 179.38 L467.95 179.46 L468.37 179.55 L468.80 179.63 L469.23 179.72 L469.65 179.80 L470.08 179.89 L470.51 179.97 L470.93 180.05 L471.36 180.14 L471.79 180.22 L472.21 180.30 L472.64 180.38 L473.07 180.46 L473.49 180.54 L473.92 180.62 L474.35 180.70 L474.78 180.78 L475.20 180.86 L475.63 180.93 L476.06 181.01 L476.48 181.09 L476.91 181.16 L477.34 181.24 L477.76 181.31 L478.19 181.38 L478.62 181.46 L479.04 181.53 L479.47 181.60 L479.90 181.68 L480.32 181.75 L480.75 181.82 L481.18 181.89 L481.61 181.96 L482.03 182.03 L482.46 182.10 L482.89 182.17 L483.31 182.24 L483.74 182.31 L484.17 182.37 L484.59 182.44 L485.02 182.51 L485.45 182.58 L485.87 182.64 L486.30 182.71 L486.73 182.77 L487.15 182.84 L487.58 182.90 L488.01 182.96 L488.43 183.03 L488.86 183.09 L489.29 183.15 L489.72 183.22 L490.14 183.28 L490.57 183.34 L491.00 183.40 L491.42 183.46 L491.85 183.52 L492.28 183.58 L492.70 183.64 L493.13 183.70 L493.56 183.76 L493.98 183.82 L494.41 183.87 L494.84 183.93 L495.26 183.99 L495.69 184.04 L496.12 184.10 L496.55 184.16 L496.97 184.21 L497.40 184.27 L497.83 184.32 L498.25 184.38 L498.68 184.43 L499.11 184.48 L499.53 184.54 L499.96 184.59 L500.39 184.64 L500.81 184.70 L501.24 184.75 L501.67 184.80 L502.09 184.85 L502.52 184.90 L502.95 184.95 L503.38 185.00 L503.80 185.05 L504.23 185.10 L504.66 185.15 L505.08 185.20 L505.51 185.25 L505.94 185.30 L506.36 185.35 L506.79 185.39 L507.22 185.44 L507.64 185.49 L508.07 185.54 L508.50 185.58 L508.92 185.63 L509.35 185.67 L509.78 185.72 L510.21 185.77 L510.63 185.81 L511.06 185.85 L511.49 185.90 L511.91 185.94 L512.34 185.99 L512.77 186.03 L513.19 186.07 L513.62 186.12" stroke="#f00" stroke-width="2.5" stroke-dasharray="6.2 5.788" stroke-dashoffset="0"/>
<path d="M1.38 202.20 L1.81 202.26 L2.23 202.33 L2.66 202.39 L3.09 202.46 L3.51 202.53 L3.94 202.59 L4.37 202.66 L4.79 202.73 L5.22 202.80 L5.65 202.86 L6.08 202.93 L6.50 203.00 L6.93 203.07 L7.36 203.14 L7.78 203.21 L8.21 203.28 L8.64 203.36 L9.06 203.43 L9.49 203.50 L9.92 203.57 L10.34 203.65 L10.77 203.72 L11.20 203.80 L11.62 203.87 L12.05 203.95 L12.48 204.02 L12.91 204.10 L13.33 204.18 L13.76 204.25 L14.19 204.33 L14.61 204.41 L15.04 204.49 L15.47 204.57 L15.89 204.65 L16.32 204.73 L16.75 204.81 L17.17 204.89 L17.60 204.97 L18.03 205.06 L18.45 205.14 L18.88 205.22 L19.31 205.31 L19.74 205.39 L20.16 205.48 L20.59 205.57 L21.02 205.65 L21.44 205.74 L21.87 205.83 L22.30 205.92 L22.72 206.00 L23.15 206.09 L23.58 206.18 L24.00 206.28 L24.43 206.37 L24.86 206.46 L25.28 206.55 L25.71 206.64 L26.14 206.74 L26.57 206.83 L26.99 206.93 L27.42 207.02 L27.85 207.12 L28.27 207.22 L28.70 207.32 L29.13 207.41 L29.55 207.51 L29.98 207.61 L30.41 207.71 L30.83 207.81 L31.26 207.91 L31.69 208.02 L32.11 208.12 L32.54 208.22 L32.97 208.33 L33.39 208.43 L33.82 208.54 L34.25 208.64 L34.68 208.75 L35.10 208.86 L35.53 208.97 L35.96 209.08 L36.38 209.19 L36.81 209.30 L37.24 209.41 L37.66 209.52 L38.09 209.63 L38.52 209.75 L38.94 209.86 L39.37 209.98 L39.80 210.09 L40.22 210.21 L40.65 210.33 L41.08 210.44 L41.51 210.56 L41.93 210.68 L42.36 210.80 L42.79 210.92 L43.21 211.05 L43.64 211.17 L44.07 211.29 L44.49 211.42 L44.92 211.54 L45.35 211.67 L45.77 211.80 L46.20 211.92 L46.63 212.05 L47.05 212.18 L47.48 212.31 L47.91 212.44 L48.34 212.57 L48.76 212.71 L49.19 212.84 L49.62 212.97 L50.04 213.11 L50.47 213.25 L50.90 213.38 L51.32 213.52 L51.75 213.66 L52.18 213.80 L52.60 213.94 L53.03 214.08 L53.46 214.23 L53.88 214.37 L54.31 214.51 L54.74 214.66 L55.17 214.80 L55.59 214.95 L56.02 215.10 L56.45 215.25 L56.87 215.40 L57.30 215.55 L57.73 215.70 L58.15 215.86 L58.58 216.01 L59.01 216.16 L59.43 216.32 L59.86 216.48 L60.29 216.64 L60.71 216.79 L61.14 216.95 L61.57 217.12 L62.00 217.28 L62.42 217.44 L62.85 217.61 L63.28 217.77 L63.70 217.94 L64.13 218.10 L64.56 218.27 L64.98 218.44 L65.41 218.61 L65.84 218.78 L66.26 218.96 L66.69 219.13 L67.12 219.31 L67.54 219.48 L67.97 219.66 L68.40 219.84 L68.82 220.02 L69.25 220.20 L69.68 220.38 L70.11 220.56 L70.53 220.75 L70.96 220.93 L71.39 221.12 L71.81 221.31 L72.24 221.50 L72.67 221.69 L73.09 221.88 L73.52 222.07 L73.95 222.26 L74.37 222.46 L74.80 222.65 L75.23 222.85 L75.65 223.05 L76.08 223.25 L76.51 223.45 L76.94 223.65 L77.36 223.86 L77.79 224.06 L78.22 224.27 L78.64 224.48 L79.07 224.68 L79.50 224.89 L79.92 225.11 L80.35 225.32 L80.78 225.53 L81.20 225.75 L81.63 225.96 L82.06 226.18 L82.48 226.40 L82.91 226.62 L83.34 226.84 L83.77 227.07 L84.19 227.29 L84.62 227.52 L85.05 227.75 L85.47 227.97 L85.90 228.20 L86.33 228.44 L86.75 228.67 L87.18 228.90 L87.61 229.14 L88.03 229.38 L88.46 229.62 L88.89 229.86 L89.31 230.10 L89.74 230.34 L90.17 230.59 L90.60 230.83 L91.02 231.08 L91.45 231.33 L91.88 231.58 L92.30 231.83 L92.73 232.09 L93.16 232.34 L93.58 232.60 L94.01 232.85 L94.44 233.11 L94.86 233.38 L95.29 233.64 L95.72 233.90 L96.14 234.17 L96.57 234.44 L97.00 234.71 L97.43 234.98 L97.85 235.25 L98.28 235.52 L98.71 235.80 L99.13 236.07 L99.56 236.35 L99.99 236.63 L100.41 236.92 L100.84 237.20 L101.27 237.48 L101.69 237.77 L102.12 238.06 L102.55 238.35 L102.97 238.64 L103.40 238.93 L103.83 239.23 L104.25 239.53 L104.68 239.82 L105.11 240.12 L105.54 240.43 L105.96 240.73 L106.39 241.03 L106.82 241.34 L107.24 241.65 L107.67 241.96 L108.10 242.27 L108.52 242.59 L108.95 242.90 L109.38 243.22 L109.80 243.54 L110.23 243.86 L110.66 244.18 L111.08 244.50 L111.51 244.83 L111.94 245.16 L112.37 245.49 L112.79 245.82 L113.22 246.15 L113.65 246.49 L114.07 246.82 L114.50 247.16 L114.93 247.50 L115.35 247.84 L115.78 248.19 L116.21 248.53 L116.63 248.88 L117.06 249.23 L117.49 249.58 L117.91 249.93 L118.34 250.28 L118.77 250.64 L119.20 251.00 L119.62 251.36 L120.05 251.72 L120.48 252.08 L120.90 252.45 L121.33 252.81 L121.76 253.18 L122.18 253.55 L122.61 253.93 L123.04 254.30 L123.46 254.67 L123.89 255.05 L124.32 255.43 L124.74 255.81 L125.17 256.20 L125.60 256.58 L126.03 256.97 L126.45 257.35 L126.88 257.74 L127.31 258.14 L127.73 258.53 L128.16 258.92 L128.59 259.32 L129.01 259.72 L129.44 260.12 L129.87 260.52 L130.29 260.93 L130.72 261.33 L131.15 261.74 L131.57 262.15 L132.00 262.56 L132.43 262.97 L132.85 263.39 L133.28 263.80 L133.71 264.22 L134.14 264.64 L134.56 265.06 L134.99 265.48 L135.42 265.90 L135.84 266.33 L136.27 266.76 L136.70 267.19 L137.12 267.62 L137.55 268.05 L137.98 268.48 L138.40 268.92 L138.83 269.35 L139.26 269.79 L139.68 270.23 L140.11 270.67 L140.54 271.11 L140.97 271.56 L141.39 272.00 L141.82 272.45 L142.25 272.90 L142.67 273.35 L143.10 273.80 L143.53 274.25 L143.95 274.70 L144.38 275.16 L144.81 275.61 L145.23 276.07 L145.66 276.53 L146.09 276.99 L146.51 277.45 L146.94 277.91 L147.37 278.37 L147.80 278.83 L148.22 279.30 L148.65 279.76 L149.08 280.23 L149.50 280.70 L149.93 281.17 L150.36 281.64 L150.78 282.11 L151.21 282.58 L151.64 283.05 L152.06 283.52 L152.49 283.99 L152.92 284.47 L153.34 284.94 L153.77 285.42 L154.20 285.89 L154.63 286.37 L155.05 286.85 L155.48 287.32 L155.91 287.80 L156.33 288.28 L156.76 288.76 L157.19 289.23 L157.61 289.71 L158.04 290.19 L158.47 290.67 L158.89 291.15 L159.32 291.63 L159.75 292.10 L160.17 292.58 L160.60 293.06 L161.03 293.54 L161.45 294.02 L161.88 294.49 L162.31 294.97 L162.74 295.44 L163.16 295.92 L163.59 296.40 L164.02 296.87 L164.44 297.34 L164.87 297.82 L165.30 298.29 L165.72 298.76 L166.15 299.23 L166.58 299.70 L167.00 300.16 L167.43 300.63 L167.86 301.09 L168.28 301.56 L168.71 302.02 L169.14 302.48 L169.57 302.94 L169.99 303.39 L170.42 303.85 L170.85 304.30 L171.27 304.75 L171.70 305.20 L172.13 305.65 L172.55 306.09 L172.98 306.53 L173.41 306.97 L173.83 307.41 L174.26 307.84 L174.69 308.28 L175.11 308.70 L175.54 309.13 L175.97 309.55 L176.40 309.97 L176.82 310.39 L177.25 310.80 L177.68 311.21 L178.10 311.61 L178.53 312.02 L178.96 312.41 L179.38 312.81 L179.81 313.20 L180.24 313.58 L180.66 313.96 L181.09 314.34 L181.52 314.71 L181.94 315.08 L182.37 315.44 L182.80 315.80 L183.23 316.15 L183.65 316.50 L184.08 316.84 L184.51 317.17 L184.93 317.50 L185.36 317.83 L185.79 318.15 L186.21 318.46 L186.64 318.76 L187.07 319.06 L187.49 319.36 L187.92 319.64 L188.35 319.92 L188.77 320.20 L189.20 320.46 L189.63 320.72 L190.06 320.97 L190.48 321.22 L190.91 321.45 L191.34 321.68 L191.76 321.90 L192.19 322.11 L192.62 322.32 L193.04 322.51 L193.47 322.70 L193.90 322.88 L194.32 323.05 L194.75 323.21 L195.18 323.36 L195.60 323.50 L196.03 323.63 L196.46 323.75 L196.88 323.86 L197.31 323.97 L197.74 324.06 L198.17 324.14 L198.59 324.21 L199.02 324.27 L199.45 324.32 L199.87 324.35 L200.30 324.38 L200.73 324.40 L201.15 324.40 L201.58 324.39 L202.01 324.37 L202.43 324.34 L202.86 324.29 L203.29 324.24 L203.71 324.17 L204.14 324.09 L204.57 323.99 L205.00 323.88 L205.42 323.76 L205.85 323.63 L206.28 323.48 L206.70 323.31 L207.13 323.14 L207.56 322.95 L207.98 322.74 L208.41 322.53 L208.84 322.29 L209.26 322.05 L209.69 321.78 L210.12 321.51 L210.54 321.21 L210.97 320.91 L211.40 320.58 L211.83 320.25 L212.25 319.89 L212.68 319.52 L213.11 319.14 L213.53 318.74 L213.96 318.32 L214.39 317.88 L214.81 317.43 L215.24 316.97 L215.67 316.49 L216.09 315.99 L216.52 315.47 L216.95 314.94 L217.37 314.39 L217.80 313.82 L218.23 313.23 L218.66 312.63 L219.08 312.01 L219.51 311.38 L219.94 310.72 L220.36 310.05 L220.79 309.36 L221.22 308.66 L221.64 307.93 L222.07 307.19 L222.50 306.43 L222.92 305.66 L223.35 304.86 L223.78 304.05 L224.20 303.22 L224.63 302.37 L225.06 301.50 L225.49 300.62 L225.91 299.72 L226.34 298.80 L226.77 297.86 L227.19 296.90 L227.62 295.93 L228.05 294.94 L228.47 293.93 L228.90 292.90 L229.33 291.86 L229.75 290.80 L230.18 289.72 L230.61 288.62 L231.03 287.51 L231.46 286.38 L231.89 285.23 L232.31 284.06 L232.74 282.88 L233.17 281.68 L233.60 280.47 L234.02 279.24 L234.45 277.99 L234.88 276.72 L235.30 275.44 L235.73 274.14 L236.16 272.83 L236.58 271.50 L237.01 270.16 L237.44 268.80 L237.86 267.43 L238.29 266.04 L238.72 264.63 L239.14 263.22 L239.57 261.78 L240.00 260.34 L240.43 258.88 L240.85 257.40 L241.28 255.92 L241.71 254.42 L242.13 252.90 L242.56 251.38 L242.99 249.84 L243.41 248.29 L243.84 246.73 L244.27 245.16 L244.69 243.57 L245.12 241.98 L245.55 240.37 L245.97 238.76 L246.40 237.13 L246.83 235.50 L247.26 233.86 L247.68 232.20 L248.11 230.54 L248.54 228.87 L248.96 227.19 L249.39 225.51 L249.82 223.82 L250.24 222.12 L250.67 220.41 L251.10 218.70 L251.52 216.98 L251.95 215.26 L252.38 213.53 L252.80 211.80 L253.23 210.07 L253.66 208.32 L254.09 206.58 L254.51 204.83 L254.94 203.08 L255.37 201.33 L255.79 199.58 L256.22 197.82 L256.65 196.07 L257.07 194.31 L257.50 192.55 L257.93 190.79 L258.35 189.03 L258.78 187.28 L259.21 185.52 L259.63 183.77 L260.06 182.02 L260.49 180.27 L260.91 178.52 L261.34 176.78 L261.77 175.03 L262.20 173.30 L262.62 171.57 L263.05 169.84 L263.48 168.12 L263.90 166.40 L264.33 164.69 L264.76 162.98 L265.18 161.28 L265.61 159.59 L266.04 157.91 L266.46 156.23 L266.89 154.56 L267.32 152.90 L267.74 151.24 L268.17 149.60 L268.60 147.97 L269.03 146.34 L269.45 144.73 L269.88 143.12 L270.31 141.53 L270.73 139.94 L271.16 138.37 L271.59 136.81 L272.01 135.26 L272.44 133.72 L272.87 132.20 L273.29 130.68 L273.72 129.18 L274.15 127.70 L274.57 126.22 L275.00 124.76 L275.43 123.32 L275.86 121.88 L276.28 120.47 L276.71 119.06 L277.14 117.67 L277.56 116.30 L277.99 114.94 L278.42 113.60 L278.84 112.27 L279.27 110.96 L279.70 109.66 L280.12 108.38 L280.55 107.11 L280.98 105.86 L281.40 104.63 L281.83 103.42 L282.26 102.22 L282.69 101.04 L283.11 99.87 L283.54 98.72 L283.97 97.59 L284.39 96.48 L284.82 95.38 L285.25 94.30 L285.67 93.24 L286.10 92.20 L286.53 91.17 L286.95 90.16 L287.38 89.17 L287.81 88.20 L288.23 87.24 L288.66 86.30 L289.09 85.38 L289.51 84.48 L289.94 83.60 L290.37 82.73 L290.80 81.88 L291.22 81.05 L291.65 80.24 L292.08 79.44 L292.50 78.67 L292.93 77.91 L293.36 77.17 L293.78 76.44 L294.21 75.74 L294.64 75.05 L295.06 74.38 L295.49 73.72 L295.92 73.09 L296.34 72.47 L296.77 71.87 L297.20 71.28 L297.63 70.71 L298.05 70.16 L298.48 69.63 L298.91 69.11 L299.33 68.61 L299.76 68.13 L300.19 67.67 L300.61 67.22 L301.04 66.78 L301.47 66.36 L301.89 65.96 L302.32 65.58 L302.75 65.21 L303.17 64.85 L303.60 64.52 L304.03 64.19 L304.46 63.89 L304.88 63.59 L305.31 63.32 L305.74 63.05 L306.16 62.81 L306.59 62.57 L307.02 62.36 L307.44 62.15 L307.87 61.96 L308.30 61.79 L308.72 61.62 L309.15 61.47 L309.58 61.34 L310.00 61.22 L310.43 61.11 L310.86 61.01 L311.29 60.93 L311.71 60.86 L312.14 60.81 L312.57 60.76 L312.99 60.73 L313.42 60.71 L313.85 60.70 L314.27 60.70 L314.70 60.72 L315.13 60.75 L315.55 60.78 L315.98 60.83 L316.41 60.89 L316.83 60.96 L317.26 61.04 L317.69 61.13 L318.12 61.24 L318.54 61.35 L318.97 61.47 L319.40 61.60 L319.82 61.74 L320.25 61.89 L320.68 62.05 L321.10 62.22 L321.53 62.40 L321.96 62.59 L322.38 62.78 L322.81 62.99 L323.24 63.20 L323.66 63.42 L324.09 63.65 L324.52 63.88 L324.94 64.13 L325.37 64.38 L325.80 64.64 L326.23 64.90 L326.65 65.18 L327.08 65.46 L327.51 65.74 L327.93 66.04 L328.36 66.34 L328.79 66.64 L329.21 66.95 L329.64 67.27 L330.07 67.60 L330.49 67.93 L330.92 68.26 L331.35 68.60 L331.77 68.95 L332.20 69.30 L332.63 69.66 L333.06 70.02 L333.48 70.39 L333.91 70.76 L334.34 71.14 L334.76 71.52 L335.19 71.90 L335.62 72.29 L336.04 72.69 L336.47 73.08 L336.90 73.49 L337.32 73.89 L337.75 74.30 L338.18 74.71 L338.60 75.13 L339.03 75.55 L339.46 75.97 L339.89 76.40 L340.31 76.82 L340.74 77.26 L341.17 77.69 L341.59 78.13 L342.02 78.57 L342.45 79.01 L342.87 79.45 L343.30 79.90 L343.73 80.35 L344.15 80.80 L344.58 81.25 L345.01 81.71 L345.43 82.16 L345.86 82.62 L346.29 83.08 L346.72 83.54 L347.14 84.01 L347.57 84.47 L348.00 84.94 L348.42 85.40 L348.85 85.87 L349.28 86.34 L349.70 86.81 L350.13 87.28 L350.56 87.76 L350.98 88.23 L351.41 88.70 L351.84 89.18 L352.26 89.66 L352.69 90.13 L353.12 90.61 L353.55 91.08 L353.97 91.56 L354.40 92.04 L354.83 92.52 L355.25 93.00 L355.68 93.47 L356.11 93.95 L356.53 94.43 L356.96 94.91 L357.39 95.39 L357.81 95.87 L358.24 96.34 L358.67 96.82 L359.09 97.30 L359.52 97.78 L359.95 98.25 L360.37 98.73 L360.80 99.21 L361.23 99.68 L361.66 100.16 L362.08 100.63 L362.51 101.11 L362.94 101.58 L363.36 102.05 L363.79 102.52 L364.22 102.99 L364.64 103.46 L365.07 103.93 L365.50 104.40 L365.92 104.87 L366.35 105.34 L366.78 105.80 L367.20 106.27 L367.63 106.73 L368.06 107.19 L368.49 107.65 L368.91 108.11 L369.34 108.57 L369.77 109.03 L370.19 109.49 L370.62 109.94 L371.05 110.40 L371.47 110.85 L371.90 111.30 L372.33 111.75 L372.75 112.20 L373.18 112.65 L373.61 113.10 L374.03 113.54 L374.46 113.99 L374.89 114.43 L375.32 114.87 L375.74 115.31 L376.17 115.75 L376.60 116.18 L377.02 116.62 L377.45 117.05 L377.88 117.48 L378.30 117.91 L378.73 118.34 L379.16 118.77 L379.58 119.20 L380.01 119.62 L380.44 120.04 L380.86 120.46 L381.29 120.88 L381.72 121.30 L382.15 121.71 L382.57 122.13 L383.00 122.54 L383.43 122.95 L383.85 123.36 L384.28 123.77 L384.71 124.17 L385.13 124.58 L385.56 124.98 L385.99 125.38 L386.41 125.78 L386.84 126.18 L387.27 126.57 L387.69 126.96 L388.12 127.36 L388.55 127.75 L388.97 128.13 L389.40 128.52 L389.83 128.90 L390.26 129.29 L390.68 129.67 L391.11 130.05 L391.54 130.43 L391.96 130.80 L392.39 131.17 L392.82 131.55 L393.24 131.92 L393.67 132.29 L394.10 132.65 L394.52 133.02 L394.95 133.38 L395.38 133.74 L395.80 134.10 L396.23 134.46 L396.66 134.82 L397.09 135.17 L397.51 135.52 L397.94 135.87 L398.37 136.22 L398.79 136.57 L399.22 136.91 L399.65 137.26 L400.07 137.60 L400.50 137.94 L400.93 138.28 L401.35 138.61 L401.78 138.95 L402.21 139.28 L402.63 139.61 L403.06 139.94 L403.49 140.27 L403.92 140.60 L404.34 140.92 L404.77 141.24 L405.20 141.56 L405.62 141.88 L406.05 142.20 L406.48 142.51 L406.90 142.83 L407.33 143.14 L407.76 143.45 L408.18 143.76 L408.61 144.07 L409.04 144.37 L409.46 144.67 L409.89 144.98 L410.32 145.28 L410.75 145.57 L411.17 145.87 L411.60 146.17 L412.03 146.46 L412.45 146.75 L412.88 147.04 L413.31 147.33 L413.73 147.62 L414.16 147.90 L414.59 148.18 L415.01 148.47 L415.44 148.75 L415.87 149.03 L416.29 149.30 L416.72 149.58 L417.15 149.85 L417.57 150.12 L418.00 150.39 L418.43 150.66 L418.86 150.93 L419.28 151.20 L419.71 151.46 L420.14 151.72 L420.56 151.99 L420.99 152.25 L421.42 152.50 L421.84 152.76 L422.27 153.01 L422.70 153.27 L423.12 153.52 L423.55 153.77 L423.98 154.02 L424.40 154.27 L424.83 154.51 L425.26 154.76 L425.69 155.00 L426.11 155.24 L426.54 155.48 L426.97 155.72 L427.39 155.96 L427.82 156.20 L428.25 156.43 L428.67 156.66 L429.10 156.90 L429.53 157.13 L429.95 157.35 L430.38 157.58 L430.81 157.81 L431.23 158.03 L431.66 158.26 L432.09 158.48 L432.52 158.70 L432.94 158.92 L433.37 159.14 L433.80 159.35 L434.22 159.57 L434.65 159.78 L435.08 159.99 L435.50 160.21 L435.93 160.42 L436.36 160.62 L436.78 160.83 L437.21 161.04 L437.64 161.24 L438.06 161.45 L438.49 161.65 L438.92 161.85 L439.35 162.05 L439.77 162.25 L440.20 162.45 L440.63 162.64 L441.05 162.84 L441.48 163.03 L441.91 163.22 L442.33 163.41 L442.76 163.60 L443.19 163.79 L443.61 163.98 L444.04 164.17 L444.47 164.35 L444.89 164.54 L445.32 164.72 L445.75 164.90 L446.18 165.08 L446.60 165.26 L447.03 165.44 L447.46 165.62 L447.88 165.79 L448.31 165.97 L448.74 166.14 L449.16 166.32 L449.59 166.49 L450.02 166.66 L450.44 166.83 L450.87 167.00 L451.30 167.16 L451.72 167.33 L452.15 167.49 L452.58 167.66 L453.00 167.82 L453.43 167.98 L453.86 168.15 L454.29 168.31 L454.71 168.46 L455.14 168.62 L455.57 168.78 L455.99 168.94 L456.42 169.09 L456.85 169.24 L457.27 169.40 L457.70 169.55 L458.13 169.70 L458.55 169.85 L458.98 170.00 L459.41 170.15 L459.83 170.30 L460.26 170.44 L460.69 170.59 L461.12 170.73 L461.54 170.87 L461.97 171.02 L462.40 171.16 L462.82 171.30 L463.25 171.44 L463.68 171.58 L464.10 171.72 L464.53 171.85 L464.96 171.99 L465.38 172.13 L465.81 172.26 L466.24 172.39 L466.66 172.53 L467.09 172.66 L467.52 172.79 L467.95 172.92 L468.37 173.05 L468.80 173.18 L469.23 173.30 L469.65 173.43 L470.08 173.56 L470.51 173.68 L470.93 173.81 L471.36 173.93 L471.79 174.05 L472.21 174.18 L472.64 174.30 L473.07 174.42 L473.49 174.54 L473.92 174.66 L474.35 174.77 L474.78 174.89 L475.20 175.01 L475.63 175.12 L476.06 175.24 L476.48 175.35 L476.91 175.47 L477.34 175.58 L477.76 175.69 L478.19 175.80 L478.62 175.91 L479.04 176.02 L479.47 176.13 L479.90 176.24 L480.32 176.35 L480.75 176.46 L481.18 176.56 L481.61 176.67 L482.03 176.77 L482.46 176.88 L482.89 176.98 L483.31 177.08 L483.74 177.19 L484.17 177.29 L484.59 177.39 L485.02 177.49 L485.45 177.59 L485.87 177.69 L486.30 177.78 L486.73 177.88 L487.15 177.98 L487.58 178.08 L488.01 178.17 L488.43 178.27 L488.86 178.36 L489.29 178.46 L489.72 178.55 L490.14 178.64 L490.57 178.73 L491.00 178.82 L491.42 178.92 L491.85 179.01 L492.28 179.10 L492.70 179.18 L493.13 179.27 L493.56 179.36 L493.98 179.45 L494.41 179.53 L494.84 179.62 L495.26 179.71 L495.69 179.79 L496.12 179.88 L496.55 179.96 L496.97 180.04 L497.40 180.13 L497.83 180.21 L498.25 180.29 L498.68 180.37 L499.11 180.45 L499.53 180.53 L499.96 180.61 L500.39 180.69 L500.81 180.77 L501.24 180.85 L501.67 180.92 L502.09 181.00 L502.52 181.08 L502.95 181.15 L503.38 181.23 L503.80 181.30 L504.23 181.38 L504.66 181.45 L505.08 181.53 L505.51 181.60 L505.94 181.67 L506.36 181.74 L506.79 181.82 L507.22 181.89 L507.64 181.96 L508.07 182.03 L508.50 182.10 L508.92 182.17 L509.35 182.24 L509.78 182.30 L510.21 182.37 L510.63 182.44 L511.06 182.51 L511.49 182.57 L511.91 182.64 L512.34 182.71 L512.77 182.77 L513.19 182.84 L513.62 182.90" stroke="#00f" stroke-width="2.6" stroke-dasharray="1.8 5.703" stroke-dashoffset="2.25"/>
</g>
<g stroke="#000" fill="none">
<line x1="0" y1="192.55" x2="515.2" y2="192.55" stroke-width="3.0"/>
<line x1="257.5" y1="34.3" x2="257.5" y2="350.6" stroke-width="3.0"/>
<line x1="1.38" y1="192.55" x2="1.38" y2="186.8" stroke-width="3.0"/>
<line x1="65.41" y1="192.55" x2="65.41" y2="186.8" stroke-width="3.0"/>
<line x1="129.44" y1="192.55" x2="129.44" y2="186.8" stroke-width="3.0"/>
<line x1="193.47" y1="192.55" x2="193.47" y2="186.8" stroke-width="3.0"/>
<line x1="321.53" y1="192.55" x2="321.53" y2="186.8" stroke-width="3.0"/>
<line x1="385.56" y1="192.55" x2="385.56" y2="186.8" stroke-width="3.0"/>
<line x1="449.59" y1="192.55" x2="449.59" y2="186.8" stroke-width="3.0"/>
<line x1="513.62" y1="192.55" x2="513.62" y2="186.8" stroke-width="3.0"/>
<line x1="257.5" y1="333.19" x2="263.9" y2="333.19" stroke-width="3.0"/>
<line x1="257.5" y1="262.87" x2="263.9" y2="262.87" stroke-width="3.0"/>
<line x1="257.5" y1="122.23" x2="263.9" y2="122.23" stroke-width="3.0"/>
<line x1="257.5" y1="51.91" x2="263.9" y2="51.91" stroke-width="3.0"/>
</g>
<g font-size="22.7" fill="#000">
<path d="M478 0V1170L140 959V1180L493 1409H759V0Z" fill="#000" transform="translate(315.75 217.50) scale(0.01108 -0.01108)"/>
<rect x="181.90" y="211.10" width="10.10" height="2.60" fill="#000"/>
<path d="M478 0V1170L140 959V1180L493 1409H759V0Z" fill="#000" transform="translate(194.45 217.50) scale(0.01108 -0.01108)"/>
<text x="385.86" y="217.5" text-anchor="middle">2</text>
<text x="449.89" y="217.5" text-anchor="middle">3</text>
<text x="513.92" y="217.5" text-anchor="middle">4</text>
<text x="253.2" y="59.4" text-anchor="end">0.4</text>
<text x="253.2" y="129.8" text-anchor="end">0.2</text>
<text x="253.2" y="341.6" text-anchor="end">0.4</text>
<rect x="209.00" y="334.90" width="10.80" height="2.60" fill="#000"/>
<text x="527.7" y="200.6" font-style="italic">x</text>
</g>
<text x="260.3" y="25" font-size="12.2" font-style="italic">(x)</text>
<g fill="none">
<line x1="373.9" y1="252.8" x2="434.1" y2="252.8" stroke="#000" stroke-width="2.5"/>
<line x1="374.9" y1="282.9" x2="431" y2="282.9" stroke="#f00" stroke-width="2.5" stroke-dasharray="6.2 5.77"/>
<line x1="375.2" y1="312.9" x2="430" y2="312.9" stroke="#00f" stroke-width="2.6" stroke-dasharray="1.8 5.67"/>
</g>
<text x="442.45" y="258.6" font-size="16.2" font-style="italic" fill="#000">ϵ</text>
<rect x="451.1" y="252.05" width="8.3" height="1.85" fill="#000"/><rect x="451.1" y="255.25" width="8.3" height="1.85" fill="#000"/>
<text x="460.3" y="258.6" font-size="18.2" fill="#000">0.25</text>
<text x="442.45" y="288.6" font-size="16.2" font-style="italic" fill="#f00">ϵ</text>
<rect x="451.1" y="282.05" width="8.3" height="1.85" fill="#f00"/><rect x="451.1" y="285.25" width="8.3" height="1.85" fill="#f00"/>
<text x="460.3" y="288.6" font-size="18.2" fill="#f00">0.50</text>
<text x="442.45" y="318.6" font-size="16.2" font-style="italic" fill="#00f">ϵ</text>
<rect x="451.1" y="312.05" width="8.3" height="1.85" fill="#00f"/><rect x="451.1" y="315.25" width="8.3" height="1.85" fill="#00f"/>
<text x="460.3" y="318.6" font-size="18.2" fill="#00f">0.75</text>
</svg></body></html>
